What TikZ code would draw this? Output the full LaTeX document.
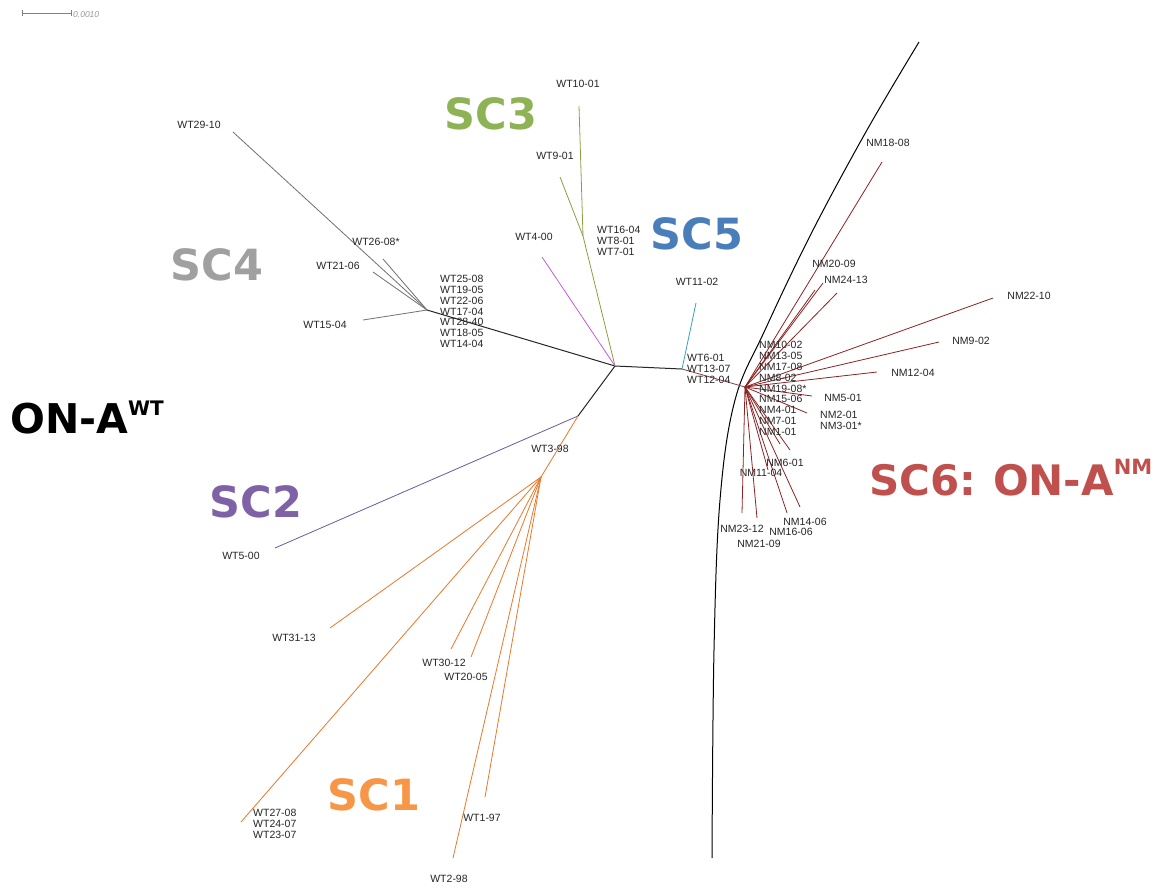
\documentclass[tikz,border=0pt]{standalone}
\usepackage{fontspec}
\setmainfont{Liberation Sans}
\newfontfamily\cladefont{DejaVu Sans}
\usetikzlibrary{arrows.meta}

\definecolor{sconegold}{HTML}{F79646}
\definecolor{sconeline}{HTML}{E8782A}
\definecolor{sctwo}{HTML}{7F62A5}
\definecolor{sctwoline}{HTML}{6A5AA0}
\definecolor{scthree}{HTML}{8DB355}
\definecolor{scthreeline}{HTML}{8AA040}
\definecolor{scfour}{HTML}{A0A0A0}
\definecolor{scfourline}{HTML}{707070}
\definecolor{scfive}{HTML}{4A7EBB}
\definecolor{scfiveline}{HTML}{3B9FC0}
\definecolor{scsix}{HTML}{C0504D}
\definecolor{nmline}{HTML}{8B2323}
\definecolor{wtfour}{HTML}{C060D0}

\tikzset{
  leaf/.style={font=\fontsize{10.5}{10.8}\selectfont, inner sep=0pt, text=black!85},
  leafstack/.style={leaf, align=left, anchor=west},
  clade/.style={font=\cladefont\bfseries\fontsize{43}{43}\selectfont, inner sep=0pt},
  br/.style={line width=0.8pt},
}

\begin{document}
\begin{tikzpicture}[x=1pt,y=-1pt]
\useasboundingbox (0,0) rectangle (1162,887);
\fill[white] (0,0) rectangle (1162,887);

\coordinate (sbl) at (22,13);
\coordinate (sbr) at (72,13);
\draw[gray, line width=0.7pt, {Bar[width=6pt]}-{Bar[width=6pt]}] (sbl) -- (sbr);
\node[font=\itshape\fontsize{8.5}{8.5}\selectfont, text=gray!80, anchor=west, inner sep=1pt] (sblab) at (72,15) {0.0010};

\coordinate (ctr) at (615,366);
\coordinate (sc5n) at (682,369);
\coordinate (nmh) at (745,387);
\coordinate (sc4h) at (427,310);
\coordinate (sc3n) at (583,236);
\coordinate (sc12) at (578,416);
\coordinate (sc1h) at (541,477);

\coordinate (wt2910) at (233,132);
\coordinate (wt2608) at (383,259);
\coordinate (wt2106) at (373,272);
\coordinate (wt1504) at (363,320);
\coordinate (wt1001) at (579,106);
\coordinate (wt901) at (560,177);
\coordinate (wt400) at (542,257);
\coordinate (wt1102) at (696,303);
\coordinate (wt500) at (275,548);
\coordinate (wt3113) at (330,628);
\coordinate (wt2708) at (241,822);
\coordinate (wt3012) at (451,649);
\coordinate (wt2005) at (471,657);
\coordinate (wt197) at (485,797);
\coordinate (wt298) at (453,858);

\coordinate (nm1808) at (882,162);
\coordinate (nm2009) at (823,283);
\coordinate (nm2009b) at (815,290);
\coordinate (nm2413) at (837,293);
\coordinate (nm2210) at (993,298);
\coordinate (nm902) at (939,342);
\coordinate (nm1204) at (877,372);
\coordinate (nm501) at (812,396);
\coordinate (nm201) at (807,413);
\coordinate (nm101) at (780,444);
\coordinate (nm601) at (790,450);
\coordinate (nm1104) at (768,470);
\coordinate (nm1406) at (800,507);
\coordinate (nm1606) at (787,513);
\coordinate (nm2109) at (757,518);
\coordinate (nm2312) at (742,513);

\draw[black, line width=1pt] plot[smooth, tension=0.6] coordinates {(919,42) (867,130) (812,232) (765,330) (735,400) (720,500) (714,650) (712,858)};

\draw[br, black!85, line width=1pt] (sc4h) -- (ctr);
\draw[br, black!85, line width=1pt] (ctr) -- (sc5n);
\draw[br, black!85, line width=1pt] (ctr) -- (sc12);
\draw[br, nmline!70!gray] (sc5n) -- (nmh);

\draw[br, scfourline] (sc4h) -- (wt2910);
\draw[br, scfourline] (sc4h) -- (wt2608);
\draw[br, scfourline] (sc4h) -- (wt2106);
\draw[br, scfourline] (sc4h) -- (wt1504);

\draw[br, scthreeline] (ctr) -- (sc3n);
\draw[br, scthreeline] (sc3n) -- (wt1001);
\draw[br, scthreeline] (sc3n) -- (wt901);
\draw[br, wtfour] (ctr) -- (wt400);
\draw[br, scfiveline] (sc5n) -- (wt1102);

\draw[br, sctwoline] (sc12) -- (wt500);
\draw[br, sconeline] (sc12) -- (sc1h);
\draw[br, sconeline] (sc1h) -- (wt3113);
\draw[br, sconeline] (sc1h) -- (wt2708);
\draw[br, sconeline] (sc1h) -- (wt3012);
\draw[br, sconeline] (sc1h) -- (wt2005);
\draw[br, sconeline] (sc1h) -- (wt197);
\draw[br, sconeline] (sc1h) -- (wt298);

\draw[br, nmline] (nmh) -- (nm1808);
\draw[br, nmline] (nmh) -- (nm2009);
\draw[br, nmline] (nmh) -- (nm2009b);
\draw[br, nmline] (nmh) -- (nm2413);
\draw[br, nmline] (nmh) -- (nm2210);
\draw[br, nmline] (nmh) -- (nm902);
\draw[br, nmline] (nmh) -- (nm1204);
\draw[br, nmline] (nmh) -- (nm501);
\draw[br, nmline] (nmh) -- (nm201);
\draw[br, nmline] (nmh) -- (nm101);
\draw[br, nmline] (nmh) -- (nm601);
\draw[br, nmline] (nmh) -- (nm1104);
\draw[br, nmline] (nmh) -- (nm1406);
\draw[br, nmline] (nmh) -- (nm1606);
\draw[br, nmline] (nmh) -- (nm2109);
\draw[br, nmline] (nmh) -- (nm2312);

\node[leaf] (l2910) at (199,125) {WT29-10};
\node[leaf] (l2608) at (376,242) {WT26-08*};
\node[leaf] (l2106) at (338,266) {WT21-06};
\node[leaf] (l1504) at (325,325) {WT15-04};
\node[leafstack] (l2508) at (440,311.5) {WT25-08\\WT19-05\\WT22-06\\WT17-04\\WT28-40\\WT18-05\\WT14-04};
\node[leaf] (l1001) at (578,84) {WT10-01};
\node[leaf] (l901) at (555,156) {WT9-01};
\node[leafstack] (l1604) at (597,241) {WT16-04\\WT8-01\\WT7-01};
\node[leaf] (l400) at (534,237) {WT4-00};
\node[leaf] (l1102) at (697,282) {WT11-02};
\node[leafstack] (l601) at (687,369) {WT6-01\\WT13-07\\WT12-04};
\node[leaf] (l398) at (550,449) {WT3-98};
\node[leaf] (l500) at (241,556) {WT5-00};
\node[leaf] (l3113) at (294,638) {WT31-13};
\node[leaf] (l3012) at (444,663) {WT30-12};
\node[leaf] (l2005) at (466,677) {WT20-05};
\node[leafstack] (l2708) at (253,824) {WT27-08\\WT24-07\\WT23-07};
\node[leaf] (l197) at (482,818) {WT1-97};
\node[leaf] (l298) at (449,879) {WT2-98};

\node[leaf] (n1808) at (888,143) {NM18-08};
\node[leaf] (n2009) at (834,264) {NM20-09};
\node[leaf] (n2413) at (846,280) {NM24-13};
\node[leaf] (n2210) at (1029,296) {NM22-10};
\node[leaf] (n902) at (971,341) {NM9-02};
\node[leaf] (n1204) at (913,373) {NM12-04};
\node[leaf] (n501) at (843,398) {NM5-01};
\node[leafstack] (n1002) at (759,388.5) {NM10-02\\NM13-05\\NM17-08\\NM8-02\\NM19-08*\\NM15-06\\NM4-01\\NM7-01\\NM1-01};
\node[leafstack] (n201) at (820,420.5) {NM2-01\\NM3-01*};
\node[leaf] (n601) at (785,463) {NM6-01};
\node[leaf] (n1104) at (761,473) {NM11-04};
\node[leaf] (n1406) at (805,522) {NM14-06};
\node[leaf] (n2312) at (742,529) {NM23-12};
\node[leaf] (n1606) at (791,532) {NM16-06};
\node[leaf] (n2109) at (759,544) {NM21-09};

\node[clade, text=scthree] (sc3) at (491,114) {SC3};
\node[clade, text=scfive] (sc5) at (697,234) {SC5};
\node[clade, text=scfour] (sc4) at (217,265) {SC4};
\node[clade, text=sctwo] (sc2) at (256,502) {SC2};
\node[clade, text=sconegold] (sc1) at (374,795) {SC1};
\node[clade, text=black, font=\cladefont\bfseries\fontsize{41}{41}\selectfont, anchor=base west] (onawt) at (10,433) {ON-A\raisebox{18pt}{\fontsize{20}{20}\selectfont WT}};
\node[clade, text=scsix, font=\cladefont\bfseries\fontsize{42}{42}\selectfont, anchor=base west] (sc6) at (869,495) {SC6:\hspace{0.4em}ON-A\raisebox{21pt}{\fontsize{21}{21}\selectfont NM}};
\end{tikzpicture}
\end{document}
